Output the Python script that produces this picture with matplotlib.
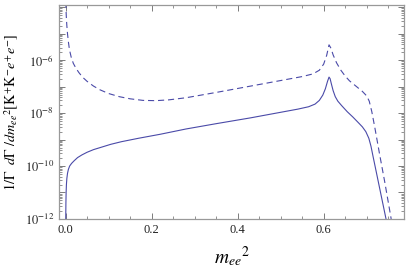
import numpy as np
import matplotlib
matplotlib.use("Agg")
import matplotlib.pyplot as plt
from matplotlib.ticker import LogLocator, FixedLocator, MultipleLocator, FuncFormatter

plt.rcParams['font.family'] = ['Liberation Serif', 'DejaVu Serif']
plt.rcParams['mathtext.fontset'] = 'stix'

# solid curve: m_ee^2, log10(value)
solid_m = [0.0004, 0.0008, 0.0013, 0.002, 0.003, 0.0045, 0.0065, 0.0095, 0.014,
           0.02, 0.028, 0.038, 0.05, 0.065, 0.085, 0.105, 0.13, 0.17, 0.22, 0.28,
           0.35, 0.43, 0.5, 0.54, 0.565, 0.58, 0.59, 0.598, 0.604, 0.609, 0.6125,
           0.615, 0.618, 0.622, 0.627, 0.633, 0.642, 0.655, 0.668, 0.68, 0.69,
           0.698, 0.705, 0.71, 0.715, 0.745]
solid_log = [-12.0, -11.4, -11.0, -10.7, -10.47, -10.28, -10.13, -10.0, -9.9,
             -9.8, -9.68, -9.58, -9.48, -9.38, -9.28, -9.18, -9.08, -8.95, -8.8, -8.6,
             -8.4, -8.18, -7.97, -7.85, -7.76, -7.66, -7.52, -7.32, -7.08, -6.8, -6.64,
             -6.7, -6.9, -7.15, -7.38, -7.55, -7.72, -7.95, -8.15, -8.35, -8.52,
             -8.7, -8.95, -9.25, -9.65, -12.0]

# dashed curve
dash_m = [0.0006, 0.0012, 0.002, 0.003, 0.0045, 0.0065, 0.009, 0.013, 0.018,
          0.024, 0.031, 0.04, 0.05, 0.065, 0.08, 0.1, 0.125, 0.15, 0.18, 0.21,
          0.24, 0.28, 0.35, 0.42, 0.49, 0.55, 0.575, 0.59, 0.6, 0.607, 0.6125,
          0.617, 0.622, 0.63, 0.64, 0.65, 0.66, 0.675, 0.69, 0.7, 0.706, 0.712,
          0.719, 0.73, 0.742, 0.757]
dash_log = [-3.8, -4.15, -4.45, -4.7, -5.0, -5.3, -5.6, -5.88, -6.12,
            -6.3, -6.47, -6.65, -6.8, -6.98, -7.12, -7.26, -7.38, -7.46, -7.52, -7.53,
            -7.5, -7.42, -7.22, -7.01, -6.8, -6.62, -6.52, -6.38, -6.15, -5.82, -5.42,
            -5.55, -5.8, -6.1, -6.38, -6.6, -6.78, -6.98, -7.18, -7.35, -7.55, -7.95,
            -8.55, -9.55, -10.6, -12.0]

xticks = [0.0, 0.2, 0.4, 0.6]
ydecades = [-12, -10, -8, -6]

color = '#4a4aa8'

fig = plt.figure(figsize=(4.09, 2.69), dpi=100)
ax = fig.add_axes([0.144, 0.186, 0.844, 0.795])

ax.plot(solid_m, 10.0 ** np.array(solid_log), color=color, lw=0.8)
ax.plot(dash_m, 10.0 ** np.array(dash_log), color=color, lw=0.8,
        dashes=(5.5, 3.5))

ax.set_yscale('log')
ax.set_xlim(-0.0155, 0.787)
ax.set_ylim(1e-12, 10 ** -3.92)

ax.xaxis.set_major_locator(FixedLocator(xticks))
ax.xaxis.set_minor_locator(MultipleLocator(0.05))
ax.xaxis.set_major_formatter(FuncFormatter(lambda v, p: f"{v:.1f}"))

ax.yaxis.set_major_locator(LogLocator(base=10, numticks=20))
ax.yaxis.set_minor_locator(LogLocator(base=10, subs=np.arange(2, 10), numticks=20))

def yfmt(v, p):
    e = int(round(np.log10(v)))
    if e in ydecades:
        return r"$10^{%d}$" % e
    return ""
ax.yaxis.set_major_formatter(FuncFormatter(yfmt))
ax.yaxis.set_minor_formatter(FuncFormatter(lambda v, p: ""))

for s in ax.spines.values():
    s.set_color('#999999')
    s.set_linewidth(0.9)
ax.tick_params(which='both', direction='in', top=True, right=True,
               colors='#666666', labelcolor='#222222', labelsize=9)
ax.tick_params(which='major', length=4, width=0.6)
ax.tick_params(which='minor', length=2, width=0.5)

ax.set_xlabel(r"$m_{ee}{}^{2}$", fontsize=14, labelpad=6)
ax.set_ylabel(r"$1/\Gamma\ \ d\Gamma\ /dm_{ee}{}^{2}[\mathrm{K}^{+}\mathrm{K}^{-}e^{+}e^{-}]$",
              fontsize=10.3, labelpad=3)

fig.savefig("out.png", dpi=100)
